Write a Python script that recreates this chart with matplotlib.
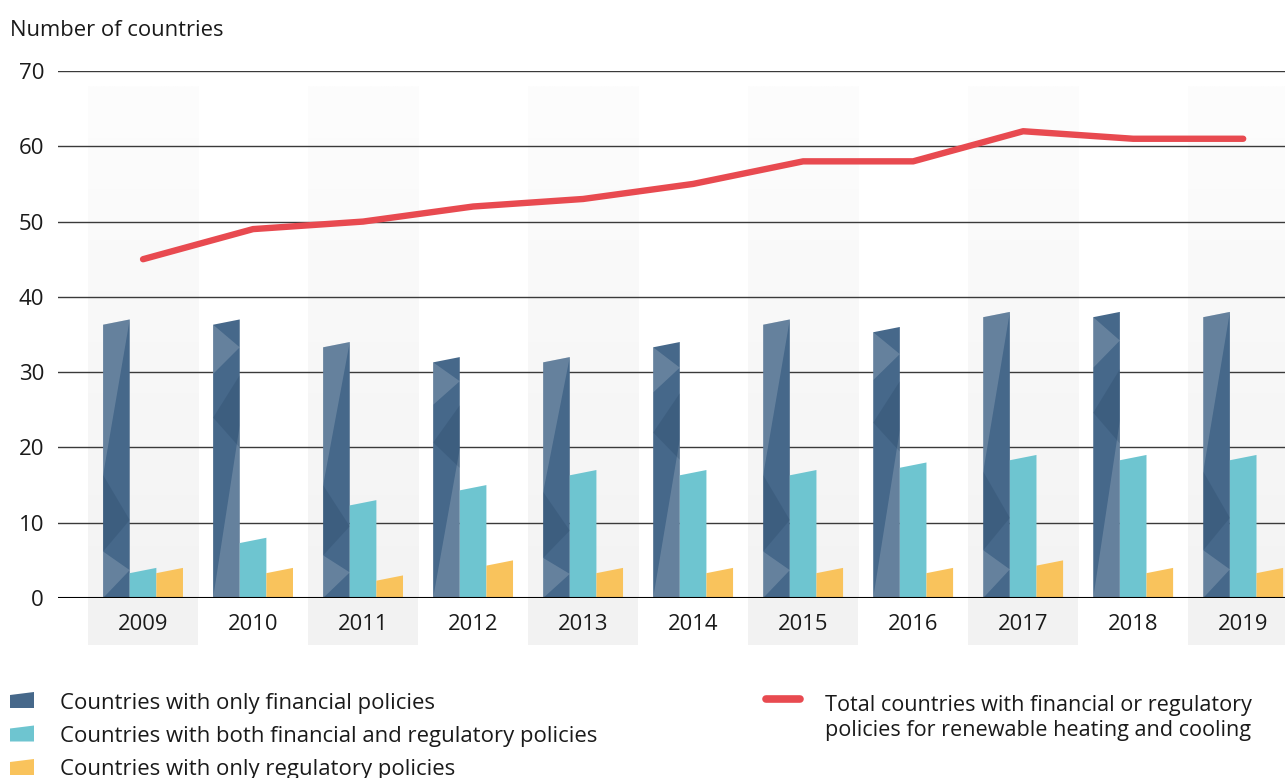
import numpy as np
import matplotlib.pyplot as plt
from matplotlib.patches import Polygon, Rectangle
from matplotlib.colors import LinearSegmentedColormap

years = ["2009", "2010", "2011", "2012", "2013", "2014", "2015", "2016", "2017", "2018", "2019"]
financial_only = [37, 37, 34, 32, 32, 34, 37, 36, 38, 38, 38]
both_policies = [4, 8, 13, 15, 17, 17, 17, 18, 19, 19, 19]
regulatory_only = [4, 4, 3, 5, 4, 4, 4, 4, 5, 4, 4]
total_countries = [45, 49, 50, 52, 53, 55, 58, 58, 62, 61, 61]

legend_bars = ["Countries with only financial policies",
               "Countries with both financial and regulatory policies",
               "Countries with only regulatory policies"]
legend_line = "Total countries with financial or regulatory\npolicies for renewable heating and cooling"

c_dark = "#46688a"
c_teal = "#6ec5d0"
c_yellow = "#f9c35c"
c_red = "#e84a50"

plt.rcParams["font.family"] = ["Open Sans", "DejaVu Sans"]

fig = plt.figure(figsize=(12.85, 7.78), dpi=100)
ax = fig.add_axes([58 / 1285, 1 - 598 / 778, 1 - 58 / 1285, (598 - 71) / 778])
ax.set_xlim(-0.773, 10.38)
ax.set_ylim(0, 70)

x = np.arange(len(years))
w = 0.242
slant = 0.7

# alternating background bands with soft gradient (white at top, light grey at bottom)
grad = np.linspace(0, 1, 256).reshape(-1, 1)
band_cmap = LinearSegmentedColormap.from_list("band", ["#f3f3f3", "#fdfdfd"])
for i in x[::2]:
    ax.imshow(grad, extent=(i - 0.5, i + 0.5, 0, 68), origin="lower",
              cmap=band_cmap, aspect="auto", zorder=0)
    ax.add_patch(Rectangle((i - 0.5, -6.2), 1, 6.2, color="#f2f2f2", clip_on=False, zorder=0, lw=0))

for y in range(10, 80, 10):
    ax.axhline(y, color="#3a3a3a", lw=1.0, zorder=1)
ax.axhline(0, color="black", lw=1.5, zorder=5)

# facet patterns for the dark bars (fractions of bar width / height)
pat_a = [((0, 1), (1, 1), (0, 0.45), "light"),
         ((0, 0.45), (1, 0.28), (0, 0.17), "dark"),
         ((0, 0.17), (1, 0.1), (0, 0), "light")]
pat_b = [((0, 0), (1, 0.62), (1, 0), "light"),
         ((0, 0.66), (1, 0.8), (1, 0.54), "dark"),
         ((0, 1), (1, 0.9), (0, 0.82), "light")]


def slanted(x0, v, color, z=3):
    pts = [(x0, 0), (x0 + w, 0), (x0 + w, v), (x0, v - slant)]
    ax.add_patch(Polygon(pts, closed=True, facecolor=color, edgecolor="none", zorder=z))


for i, xi in enumerate(x):
    x0 = xi - 1.5 * w
    v = financial_only[i]
    slanted(x0, v, c_dark)
    for a, b, c, kind in (pat_a if i % 2 == 0 else pat_b):
        pts = []
        for fx, fy in (a, b, c):
            top = v - slant * (1 - fx)
            pts.append((x0 + fx * w, fy * top))
        col = "white" if kind == "light" else "#1f3d5c"
        al = 0.17 if kind == "light" else 0.22
        ax.add_patch(Polygon(pts, closed=True, facecolor=col, alpha=al, edgecolor="none", zorder=4))
    slanted(xi - 0.5 * w, both_policies[i], c_teal)
    slanted(xi + 0.5 * w, regulatory_only[i], c_yellow)

ax.plot(x, total_countries, color=c_red, lw=4.6, solid_capstyle="round", solid_joinstyle="round", zorder=6)

for xi, yr in zip(x, years):
    ax.text(xi, -3.5, yr, ha="center", va="center", fontsize=15.8, color="#1a1a1a")

ax.set_xticks([])
ax.set_yticks(range(0, 80, 10))
ax.tick_params(axis="y", length=0, pad=10, labelsize=16, labelcolor="#1a1a1a")
for s in ax.spines.values():
    s.set_visible(False)

fig.text(10 / 1285, 1 - 30 / 778, "Number of countries", fontsize=15.8, va="center", ha="left", color="#1a1a1a")

# legend
for k, (lab, col) in enumerate(zip(legend_bars, [c_dark, c_teal, c_yellow])):
    yc = 700 + 33.5 * k
    pts = [(10, yc + 8), (34, yc + 8), (34, yc - 8), (10, yc - 5)]
    pts = [(px / 1285, 1 - py / 778) for px, py in pts]
    fig.patches.append(Polygon(pts, closed=True, facecolor=col, edgecolor="none", transform=fig.transFigure))
    fig.text(60 / 1285, 1 - (yc + 3) / 778, lab, fontsize=15.9, va="center", ha="left", color="#1a1a1a")

fig.add_artist(plt.Line2D([766 / 1285, 800 / 1285], [1 - 699 / 778] * 2, color=c_red, lw=5.5,
                          solid_capstyle="round", transform=fig.transFigure))
fig.text(825 / 1285, 1 - 718 / 778, legend_line, fontsize=15.6, va="center", ha="left",
         color="#1a1a1a", linespacing=1.25)

fig.savefig("out.png", dpi=100)
